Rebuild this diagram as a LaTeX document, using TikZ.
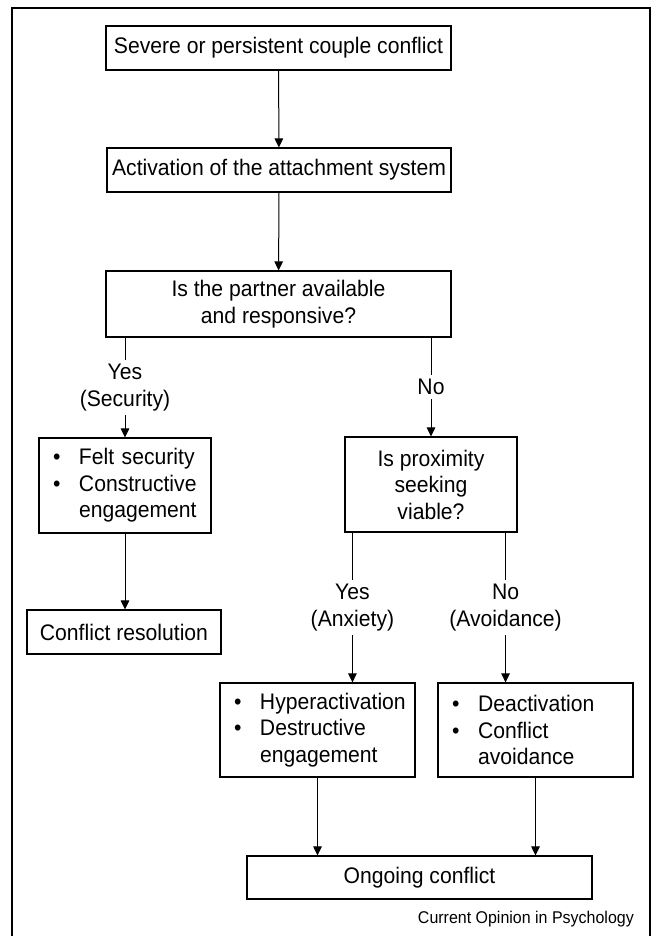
\documentclass[tikz,border=0pt]{standalone}
\usepackage{fontspec}
\setmainfont{Liberation Sans}[FakeStretch=0.94]
\usepackage{tikz}
\usetikzlibrary{arrows.meta}

\newcommand{\itm}{\makebox[26pt][l]{\textbullet}}
\hyphenpenalty=10000

\tikzset{
    box/.style={draw, line width=1.1pt, rectangle, inner sep=0pt, align=center},
    listbox/.style={draw, line width=1.1pt, rectangle, inner ysep=0pt, inner xsep=14pt,
        align=left, text width=#1},
    lbl/.style={fill=white, inner xsep=2pt, inner ysep=4pt, align=center},
    conn/.style={->, line width=1pt}
}

\begin{document}
\begin{tikzpicture}[x=1pt, y=-1pt, font=\fontsize{22.5pt}{26.5pt}\selectfont,
    >={Triangle[length=9pt,width=8.5pt]}]
    \useasboundingbox (0,0) rectangle (651,936);

    % Frame
    \draw[line width=1.2pt] (12,940) -- (12,8) -- (650,8) -- (650,940);

    % Main column
    \node[box, minimum width=345pt, minimum height=44pt] (sev) at (278.5,48) {Severe or persistent couple conflict};
    \node[box, minimum width=344pt, minimum height=44pt] (act) at (279,170) {Activation of the attachment system};
    \node[box, minimum width=345pt, minimum height=66pt] (avail) at (278.5,304) {Is the partner available\\and responsive?};

    % Left branch
    \node[listbox=144pt, minimum height=95pt] (felt) at (125,485.5) {\itm Felt security\\\itm Constructive\\\hspace*{26pt}engagement};
    \node[box, minimum width=194pt, minimum height=44pt] (resol) at (124,632) {Conflict resolution};

    % Right branch
    \node[box, minimum width=172pt, minimum height=95pt] (prox) at (431,484.5) {Is proximity\\seeking\\viable?};
    \node[listbox=167pt, minimum height=94pt] (hyper) at (317.5,730) {\itm Hyperactivation\\\itm Destructive\\\hspace*{26pt}engagement};
    \node[listbox=167pt, minimum height=94pt] (deact) at (535.5,730) {\itm Deactivation\\\itm Conflict\\\hspace*{26pt}avoidance};
    \node[box, minimum width=345pt, minimum height=43pt] (ongoing) at (419.5,877.5) {Ongoing conflict};

    \node[anchor=east, inner sep=0pt, font=\fontsize{17pt}{19pt}\selectfont] (source) at (634,919) {Current Opinion in Psychology};

    % Connectors
    \draw[conn] (sev) -- (act);
    \draw[conn] (act) -- (avail);
    \draw[conn] (avail.south -| felt.north) -- node[lbl] {Yes\\(Security)} (felt.north);
    \draw[conn] (avail.south -| prox.north) -- node[lbl] {No} (prox.north);
    \draw[conn] (felt.south) -- (felt.south |- resol.north);
    \draw[conn] ([xshift=8pt]prox.south west) coordinate (anx) -- node[lbl] {Yes\\(Anxiety)} (anx |- hyper.north);
    \draw[conn] ([xshift=-12pt]prox.south east) coordinate (avd) -- node[lbl] {No\\(Avoidance)} (avd |- deact.north);
    \draw[conn] (hyper.south) -- (hyper.south |- ongoing.north);
    \draw[conn] (deact.south) -- (deact.south |- ongoing.north);
\end{tikzpicture}
\end{document}
